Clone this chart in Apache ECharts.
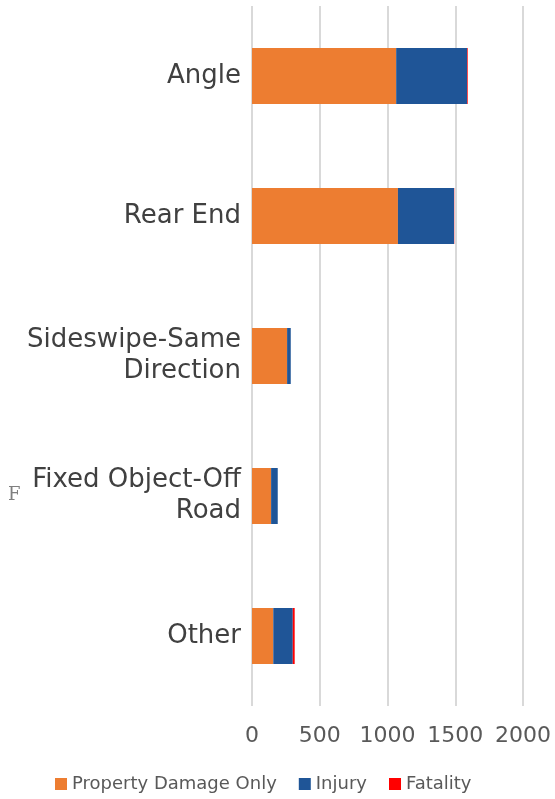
<!DOCTYPE html>
<html>
<head>
<meta charset="utf-8">
<script src="https://cdn.jsdelivr.net/npm/echarts@6/dist/echarts.min.js"></script>
<style>
  html, body { margin: 0; padding: 0; background: #fff; }
  #chart { width: 555px; height: 799px; }
</style>
</head>
<body>
<div id="chart"></div>
<script>
// crash types, top to bottom
var categories = ['Angle', 'Rear End', 'Sideswipe-Same\nDirection', 'Fixed Object-Off\nRoad', 'Other'];
var propertyDamage = [1064, 1077, 259, 141, 157];
var injury = [523, 414, 27, 49, 144];
var fatality = [5, 2, 0, 0, 14];
var xTicks = [0, 500, 1000, 1500, 2000];

var FONT = '"DejaVu Sans", sans-serif';

var chart = echarts.init(document.getElementById('chart'));

function barSeries(name, data, color) {
    return {
        name: name,
        type: 'bar',
        stack: 'total',
        data: data,
        barWidth: 56,
        itemStyle: { color: color },
        animation: false
    };
}

chart.setOption({
    grid: { left: 252, right: 32, top: 6, bottom: 93 },
    legend: {
        bottom: 1,
        left: 50,
        itemWidth: 12,
        itemHeight: 12,
        itemGap: 22,
        icon: 'rect',
        textStyle: { color: '#595959', fontSize: 18, fontFamily: FONT },
        data: ['Property Damage Only', 'Injury', 'Fatality']
    },
    xAxis: {
        type: 'value',
        min: xTicks[0],
        max: xTicks[xTicks.length - 1],
        interval: 500,
        axisLine: { show: false },
        axisTick: { show: false },
        axisLabel: {
            color: '#595959', fontSize: 22, fontFamily: FONT, margin: 19,
            formatter: function (v) { return String(v); }
        },
        splitLine: { lineStyle: { color: '#d9d9d9', width: 2 } }
    },
    yAxis: {
        type: 'category',
        inverse: true,
        data: categories,
        axisLine: { show: false },
        axisTick: { show: false },
        axisLabel: {
            color: '#404040', fontSize: 26, fontFamily: FONT,
            margin: 11, align: 'right', lineHeight: 31
        }
    },
    graphic: [{
        type: 'text',
        left: 8,
        top: 486,
        style: { text: 'F', fill: '#7f7f7f', font: '18px "DejaVu Serif", serif' }
    }],
    series: [
        barSeries('Property Damage Only', propertyDamage, '#ED7D31'),
        barSeries('Injury', injury, '#1F5597'),
        barSeries('Fatality', fatality, '#FF0000')
    ]
});
</script>
</body>
</html>
